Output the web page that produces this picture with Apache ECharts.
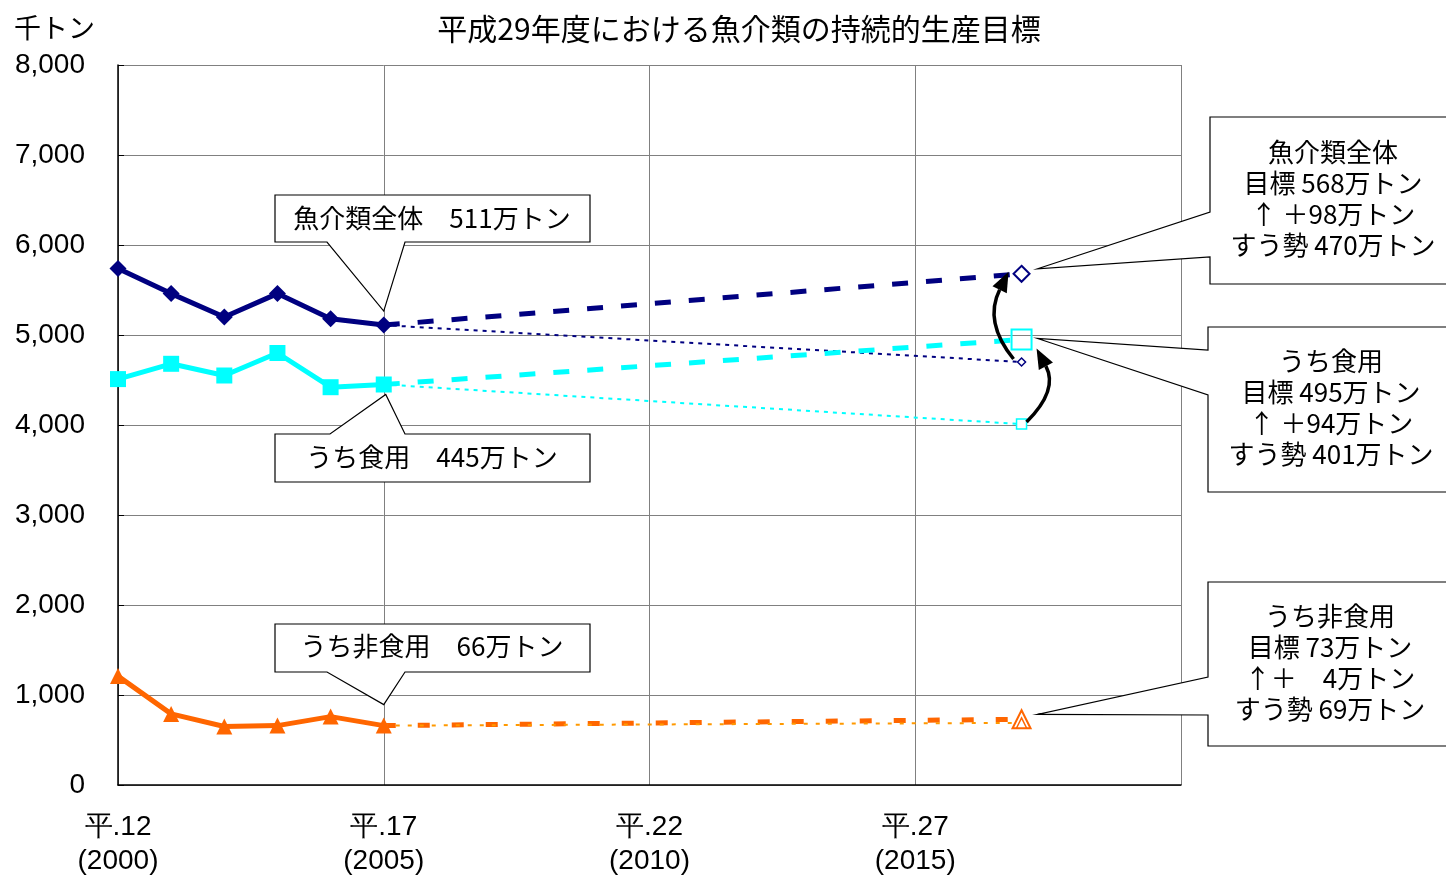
<!DOCTYPE html>
<html>
<head>
<meta charset="utf-8">
<script src="https://cdn.jsdelivr.net/npm/echarts@6/dist/echarts.min.js"></script>
<style>
  html, body { margin: 0; padding: 0; background: #fff; }
  #main { width: 1446px; height: 876px; }
</style>
</head>
<body>
<div id="main"></div>
<script>
// 年（西暦）
var years = [2000, 2001, 2002, 2003, 2004, 2005];
var targetYear = 2017;
// 実績（千トン）
var totalActual = [5740, 5460, 5200, 5460, 5180, 5110];
var foodActual = [4510, 4680, 4550, 4800, 4420, 4450];
var nonFoodActual = [1210, 790, 650, 660, 760, 660];
// 平成29年度 目標 / すう勢
var totalTarget = 5680, totalTrend = 4700;
var foodTarget = 4950, foodTrend = 4010;
var nonFoodTarget = 730, nonFoodTrend = 690;
// 軸ラベル
var xTickLabels = { 2000: '平.12\n(2000)', 2005: '平.17\n(2005)', 2010: '平.22\n(2010)', 2015: '平.27\n(2015)' };

var NAVY = '#000080', CYAN = '#00FFFF', ORANGE = '#FF6600', ORANGE2 = '#FF9900';
var CJK = '"Noto Sans CJK JP", sans-serif';

function pairs(xs, ys) {
  return xs.map(function (x, i) { return [x, ys[i]]; });
}
// 2005年からの延長線
function proj(y0, y1, sym, size) {
  return [
    { value: [2005, y0], symbol: 'none' },
    { value: [targetYear, y1], symbol: sym, symbolSize: size }
  ];
}

var chart = echarts.init(document.getElementById('main'));

chart.setOption({
  animation: false,
  title: {
    text: '平成29年度における魚介類の持続的生産目標',
    left: 734, top: 9, textAlign: 'center',
    textStyle: { fontFamily: CJK, fontSize: 30, fontWeight: 'normal', color: '#000' }
  },
  grid: { left: 118, right: 265, top: 65, bottom: 91, outerBoundsMode: 'none', containLabel: false },
  xAxis: {
    type: 'value', min: 2000, max: 2020, interval: 5,
    axisLine: { lineStyle: { color: '#000', width: 1.5 } },
    axisTick: { show: false },
    splitLine: { lineStyle: { color: '#808080', width: 1 } },
    axisLabel: {
      margin: 25, color: '#000',
      fontFamily: '"Liberation Sans Narrow", "Liberation Sans", sans-serif',
      fontSize: 28, lineHeight: 34,
      formatter: function (v) { return xTickLabels[v] || ''; }
    }
  },
  yAxis: {
    type: 'value', min: 0, max: 8000, interval: 1000,
    name: '千トン', nameLocation: 'end', nameGap: 24,
    nameTextStyle: { fontFamily: CJK, fontSize: 27, color: '#000', align: 'left', padding: [0, 0, 0, -104] },
    axisLine: { show: true, lineStyle: { color: '#000', width: 1.5 } },
    axisTick: { show: true, inside: true, length: 6, lineStyle: { color: '#000' } },
    splitLine: { lineStyle: { color: '#808080', width: 1 } },
    axisLabel: {
      margin: 33, color: '#000', fontSize: 28,
      fontFamily: '"Liberation Sans", Arial, sans-serif',
      formatter: function (v) { return v.toLocaleString('en-US'); }
    }
  },
  series: [
    {
      name: '全体すう勢', type: 'line', data: proj(totalActual[5], totalTrend, 'diamond', 8),
      lineStyle: { color: NAVY, width: 2, type: [4, 5] },
      itemStyle: { color: '#fff', borderColor: NAVY, borderWidth: 1.5 }
    },
    {
      name: '食用すう勢', type: 'line', data: proj(foodActual[5], foodTrend, 'rect', 10),
      lineStyle: { color: CYAN, width: 2, type: [4, 5] },
      itemStyle: { color: '#fff', borderColor: CYAN, borderWidth: 1.5 }
    },
    {
      name: '非食用すう勢', type: 'line', data: proj(nonFoodActual[5], nonFoodTrend, 'triangle', 10),
      lineStyle: { color: ORANGE2, width: 2, type: [4, 8] },
      itemStyle: { color: '#fff', borderColor: ORANGE, borderWidth: 1.5 }, z: 4
    },
    {
      name: '全体目標', type: 'line', data: proj(totalActual[5], totalTarget, 'diamond', 16),
      lineStyle: { color: NAVY, width: 5, type: [16, 18] },
      itemStyle: { color: '#fff', borderColor: NAVY, borderWidth: 2 }
    },
    {
      name: '食用目標', type: 'line', data: proj(foodActual[5], foodTarget, 'rect', 20),
      lineStyle: { color: CYAN, width: 5, type: [16, 18] },
      itemStyle: { color: 'rgba(255,255,255,0)', borderColor: CYAN, borderWidth: 2 }
    },
    {
      name: '非食用目標', type: 'line', data: proj(nonFoodActual[5], nonFoodTarget, 'triangle', 18),
      lineStyle: { color: ORANGE, width: 5, type: [12, 22] },
      itemStyle: { color: 'rgba(255,255,255,0)', borderColor: ORANGE, borderWidth: 2 }, z: 3
    },
    {
      name: '魚介類全体', type: 'line', data: pairs(years, totalActual),
      symbol: 'diamond', symbolSize: 17,
      lineStyle: { color: NAVY, width: 5 }, itemStyle: { color: NAVY }, z: 5
    },
    {
      name: 'うち食用', type: 'line', data: pairs(years, foodActual),
      symbol: 'rect', symbolSize: 16,
      lineStyle: { color: CYAN, width: 5 }, itemStyle: { color: CYAN }, z: 5
    },
    {
      name: 'うち非食用', type: 'line', data: pairs(years, nonFoodActual),
      symbol: 'triangle', symbolSize: 16,
      lineStyle: { color: ORANGE, width: 5 }, itemStyle: { color: ORANGE }, z: 5
    }
  ]
});

// 吹き出しと矢印（データ点の画素位置から配置）
function px(x, y) { return chart.convertToPixel({ gridIndex: 0 }, [x, y]); }

function callout(points) {
  return {
    type: 'polygon', z: 10, silent: true,
    shape: { points: points },
    style: { fill: '#fff', stroke: '#000', lineWidth: 1.2 }
  };
}
function label(text, x, y, size) {
  return {
    type: 'text', z: 11, silent: true, x: x, y: y,
    style: {
      text: text, fill: '#000', font: (size || 26) + 'px ' + CJK,
      align: 'center', verticalAlign: 'top', lineHeight: 31
    }
  };
}
function arrow(p0, c, tip) {
  var dx = tip[0] - c[0], dy = tip[1] - c[1];
  var len = Math.sqrt(dx * dx + dy * dy);
  var ux = dx / len, uy = dy / len;
  var L = 20, W = 8;
  var base = [tip[0] - ux * L, tip[1] - uy * L];
  return [
    {
      type: 'bezierCurve', z: 12, silent: true,
      shape: { x1: p0[0], y1: p0[1], x2: base[0], y2: base[1], cpx1: c[0], cpy1: c[1] },
      style: { stroke: '#000', lineWidth: 3.5, fill: null }
    },
    {
      type: 'polygon', z: 12, silent: true,
      shape: { points: [tip, [base[0] - uy * W, base[1] + ux * W], [base[0] + uy * W, base[1] - ux * W]] },
      style: { fill: '#000' }
    }
  ];
}

var pT = px(2005, totalActual[5]);
var pF = px(2005, foodActual[5]);
var pN = px(2005, nonFoodActual[5]);
var tT = px(targetYear, totalTarget), sT = px(targetYear, totalTrend);
var tF = px(targetYear, foodTarget), sF = px(targetYear, foodTrend);
var tN = px(targetYear, nonFoodTarget);

var g = [];
// 左側の吹き出し
g.push(callout([[275, 195], [590, 195], [590, 242], [405, 242], [pT[0], pT[1] - 14], [327, 242], [275, 242]]));
g.push(label('魚介類全体　511万トン', 432, 203));
g.push(callout([[275, 434], [330, 434], [pF[0] + 2, pF[1] + 10], [405, 434], [590, 434], [590, 482], [275, 482]]));
g.push(label('うち食用　445万トン', 432, 442));
g.push(callout([[275, 624], [590, 624], [590, 672], [405, 672], [pN[0], pN[1] - 21], [327, 672], [275, 672]]));
g.push(label('うち非食用　66万トン', 432, 631));
// 右側の吹き出し
g.push(callout([[1210, 117], [1450, 117], [1450, 284], [1210, 284], [1210, 257], [tT[0] + 16, tT[1] - 5], [1210, 212]]));
g.push(label('魚介類全体\n目標 568万トン\n↑ ＋98万トン\nすう勢 470万トン', 1333, 137));
g.push(callout([[1208, 327], [1450, 327], [1450, 492], [1208, 492], [1208, 395], [tF[0] + 16, tF[1] - 1], [1208, 350]]));
g.push(label('うち食用\n目標 495万トン\n↑ ＋94万トン\nすう勢 401万トン', 1331, 346));
g.push(callout([[1208, 582], [1450, 582], [1450, 746], [1208, 746], [1208, 715], [tN[0] + 16, tN[1] - 5], [1208, 677]]));
g.push(label('うち非食用\n目標 73万トン\n↑＋　4万トン\nすう勢 69万トン', 1330, 601));
// すう勢→目標 の矢印
g = g.concat(arrow([sT[0] - 8, sT[1] - 3], [sT[0] - 38, sT[1] - 40], [tT[0] - 13, tT[1] - 2]));
g = g.concat(arrow([sF[0] + 5, sF[1] - 2], [sF[0] + 37, sF[1] - 34], [tF[0] + 15, tF[1] + 9]));

chart.setOption({ graphic: g });
</script>
</body>
</html>
